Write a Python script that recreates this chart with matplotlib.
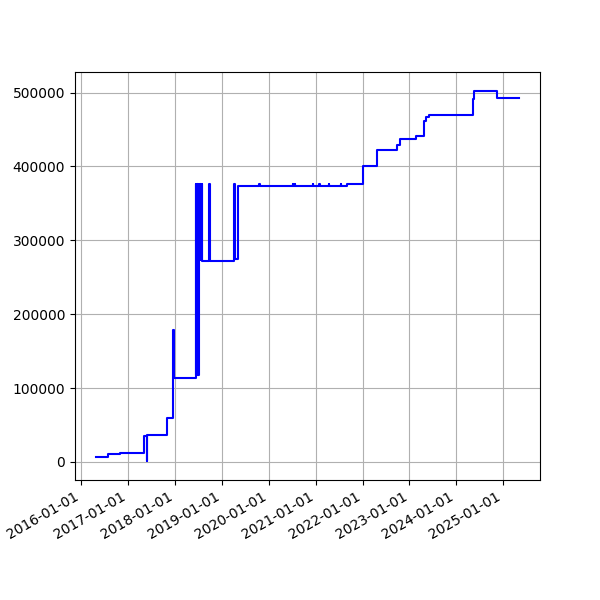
import pandas as pd
import matplotlib
matplotlib.use('Agg')
import matplotlib.pyplot as plt
import matplotlib.dates as mdates

# change points of the series (value holds until the next date)
dates = [
    '2016-04-27', '2016-07-27', '2016-10-30', '2017-05-08', '2017-05-30',
    '2017-05-31', '2017-10-30', '2017-12-18', '2017-12-22',
    # busy period mid 2018
    '2018-06-12', '2018-06-13', '2018-06-15', '2018-06-16', '2018-06-18',
    '2018-06-19', '2018-06-21', '2018-06-22', '2018-06-24', '2018-06-26',
    '2018-06-28', '2018-06-29', '2018-07-01', '2018-07-02', '2018-07-04',
    '2018-07-06', '2018-07-08', '2018-07-10', '2018-07-12', '2018-07-14',
    '2018-07-17', '2018-07-19', '2018-07-22', '2018-07-24', '2018-07-27',
    '2018-07-29', '2018-07-31', '2018-08-01',
    '2018-09-27', '2018-09-28',
    '2019-04-09', '2019-04-11', '2019-05-09',
    '2019-10-20', '2019-10-22', '2020-07-10', '2020-07-12', '2020-07-25',
    '2020-07-27', '2020-12-08', '2020-12-10', '2021-01-30', '2021-02-01',
    '2021-04-15', '2021-04-17', '2021-07-15', '2021-07-17',
    '2021-09-05', '2022-01-08', '2022-04-27', '2022-09-24', '2022-10-20',
    '2023-02-20', '2023-04-23', '2023-05-12', '2023-06-06', '2024-05-08',
    '2024-05-19', '2024-11-17', '2025-05-03',
]
values = [
    7200, 10400, 11800, 35500, 600,
    37000, 59000, 178000, 113500,
    376000, 118000, 376000, 118000, 376000,
    273000, 376000, 118000, 376000, 118000,
    376000, 273000, 376000, 118000, 376000,
    118000, 376000, 273000, 376000, 273000,
    376000, 273000, 376000, 273000, 376000,
    273000, 376000, 272500,
    376000, 272500,
    376000, 275000, 373500,
    376000, 373500, 376000, 373500, 376000,
    373500, 376000, 373500, 376000, 373500,
    376000, 373500, 376000, 373500,
    375700, 400000, 421600, 428400, 437000,
    440500, 461200, 466600, 469900, 491500,
    502700, 492300, 492300,
]

df = pd.DataFrame({'Date': pd.to_datetime(dates), 'Value': values})

fig = plt.figure(figsize=(6, 6), dpi=100)
ax = fig.add_subplot(111)
ax.plot(df.Date, df.Value, color='blue', drawstyle='steps-post')
ax.xaxis.set_major_locator(mdates.YearLocator())
ax.xaxis.set_major_formatter(mdates.DateFormatter('%Y-%m-%d'))
ax.grid(True)
fig.autofmt_xdate()
fig.savefig('out.png')
